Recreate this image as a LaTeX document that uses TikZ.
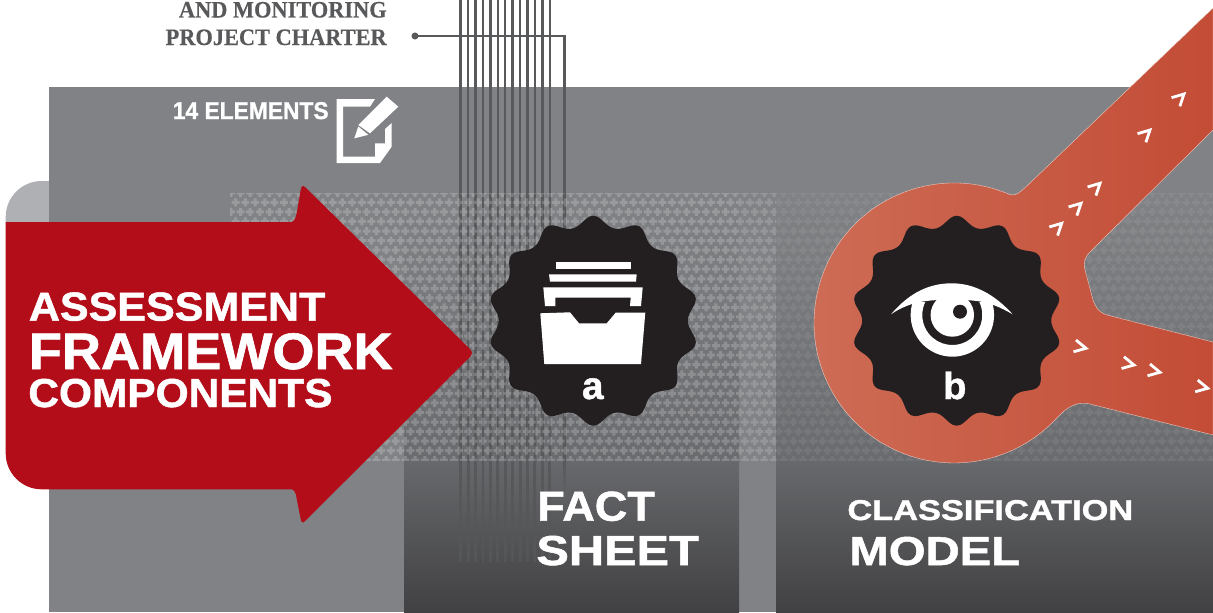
\documentclass[tikz,border=0pt]{standalone}
\usepackage{fontspec}
\newfontfamily\heavyfont[BoldFeatures={FakeBold=1.2}]{Liberation Sans}
\newfontfamily\slabfont[BoldFeatures={FakeBold=0.4}]{Liberation Serif}
\definecolor{panelgray}{HTML}{808285}
\definecolor{tabgray}{HTML}{AEB0B3}
\definecolor{paneltop}{HTML}{68696C}
\definecolor{panelbot}{HTML}{414143}
\definecolor{columnbot}{HTML}{6A6B6E}
\definecolor{wiregray}{HTML}{58595B}
\definecolor{arrowred}{HTML}{B30D1A}
\definecolor{ringleft}{HTML}{CE6D56}
\definecolor{ringright}{HTML}{C34C36}
\definecolor{badgeblack}{HTML}{231F20}
\tikzset{
  wire/.style={wiregray, line width=1.4pt},
  plusmark/.style={white, fill opacity=#1},
  chevron/.style={white, line width=1.6pt, miter limit=10},
  bigtext/.style={anchor=base west, inner sep=0pt, text=white, font=\heavyfont\bfseries},
  icon/.style={white, draw=none, fill=white},
  chartertext/.style={anchor=base east, inner sep=0pt, text=wiregray, font=\slabfont\bfseries\fontsize{13.4}{15}\selectfont},
}
\newcommand{\plusrows}[5]{% x from, x to, first column, last column, opacity
  \begin{scope}
    \clip (#1,193) rectangle (#2,460);
    \foreach \r in {0,...,28} {
      \fill[plusmark=#5] \foreach \c in {#3,...,#4} {
        ({230.8+9.7*\c+4.85*mod(\r,2)-4},{192.8+9.55*\r-1.5}) rectangle ++(8,3)
        ({230.8+9.7*\c+4.85*mod(\r,2)-1.5},{192.8+9.55*\r-4}) rectangle ++(3,8)
      };
    }
  \end{scope}
}
\newcommand{\badge}[2]{% centre
  \fill[badgeblack] plot[smooth cycle, domain=0:358, samples=180]
    ({#1+badger(\x)*cos(\x)},{#2+badger(\x)*sin(\x)});
}
\begin{document}
\begin{tikzpicture}[x=0.02cm, y=-0.02cm,
    declare function={bump(\t)=(1+cos(14*\t+180))/2; badger(\t)=94.5+10.5*(0.7*bump(\t)+0.3*bump(\t)*bump(\t));}]
  \useasboundingbox[fill=white] (0,0) rectangle (1213,612);

  \fill[tabgray] (5.7,222) -- (5.7,217) arc[start angle=180, end angle=270, radius=36] -- (49,181) -- (49,222) -- cycle;
  \fill[panelgray] (49,87) rectangle (1213,612);

  \shade[top color=panelgray, bottom color=columnbot] (404,193) rectangle (739,460);
  \shade[top color=panelgray, bottom color=columnbot] (776,193) rectangle (1213,460);
  \shade[top color=paneltop, bottom color=panelbot] (404,460) rectangle (739,612);
  \shade[top color=paneltop, bottom color=panelbot] (776,460) rectangle (1213,612);

  \foreach \i in {0,...,12} {
    \draw[wire] ({460.7+7.42*\i},0) -- ({460.7+7.42*\i},460);
    \shade[top color=wiregray, bottom color=wiregray!85!panelbot] ({459.5+7.42*\i},460) rectangle ({461.9+7.42*\i},561);
  }
  \node[circle, fill=wiregray, inner sep=0pt, minimum size=4pt] (charterdot) at (415,36) {};
  \coordinate (charterbend) at (564.3,36);
  \coordinate (charterend) at (564.3,460);
  \draw[wire] (charterdot.center) -- (charterbend) -- (charterend);
  \shade[top color=wiregray, bottom color=paneltop!80!panelbot] (563.1,460) rectangle (565.5,495);

  \plusrows{230}{739}{-1}{52}{0.2}
  \plusrows{739}{776}{51}{56}{0.16}
  \plusrows{776}{1213}{55}{101}{0.07}

  \shadedraw[left color=ringleft, right color=ringright, draw=white!70!ringleft, line width=0.2pt]
    (1009.4,194.4) arc[start angle=-66.7, end angle=-317.6, radius=140]
    .. controls (1068,406) and (1078,401) .. (1090,404) -- (1213,435) -- (1213,342) -- (1107,315)
    .. controls (1098,312) and (1095,306) .. (1093,300) -- (1085,270)
    .. controls (1083,262) and (1085,257) .. (1090,252) -- (1213,130) -- (1213,8) -- (1030,183)
    .. controls (1022,190) and (1017,197) .. cycle;

  \foreach \px/\py/\ang in {1100/183.3/44, 1081/203.3/44, 1061.7/223.3/44, 1184/94/44, 1150/130/44} {
    \draw[chevron, shift={(\px,\py)}, rotate=\ang] (-11.5,-6) -- (0,0) -- (-11.5,6);
  }
  \foreach \px/\py/\ang in {1086/348.3/-12, 1134/365/-12, 1160/372.3/-12, 1207.7/388.3/-12} {
    \draw[chevron, shift={(\px,\py)}, rotate=\ang] (-11.5,-6) -- (0,0) -- (-11.5,6);
  }

  \badge{593.3}{320.7}
  \badge{956.7}{320.7}

  \fill[icon] (555.7,262.3) rectangle (631,269);
  \fill[icon] (549,274.3) -- (636.7,274.3) -- (636,281.7) -- (550,281.7) -- cycle;
  \fill[icon] (543.3,287.3) -- (642.7,287.3) -- (641,306) -- (630,306) -- (630.7,297.7) -- (555.3,297.7) -- (555.3,306) -- (545,306) -- cycle;
  \fill[icon] (540.3,313.3) -- (570,312.3) -- (579,323.3) -- (606.7,323.3) -- (615.7,312.7) -- (645.3,312.7) -- (641,364) -- (544.3,364) -- cycle;

  \fill[icon] (912.7,302.1) arc[start angle=198, end angle=-18, radius=41.7] -- (979.3,302) arc[start angle=-25.7, end angle=205.7, radius=30] -- cycle;
  \fill[icon] (952.3,315) circle[radius=21.7];
  \fill[badgeblack] (960,311.7) circle[radius=7];
  \fill[icon] (891,314.3) .. controls (910,292) and (930,283.3) .. (951.7,283.3)
    .. controls (975,283.3) and (995,295) .. (1012.7,314.3)
    .. controls (1000,307) and (990,303) .. (980,301.5)
    .. controls (965,299) and (938,299) .. (923,301.5)
    .. controls (912,303) and (900,308) .. cycle;

  \node[anchor=base, inner sep=0pt, text=white, font=\heavyfont\bfseries\fontsize{22}{22}\selectfont] (labela) at (592.8,399) {a};
  \node[anchor=base, inner sep=0pt, text=white, font=\heavyfont\bfseries\fontsize{21.6}{22}\selectfont] (labelb) at (954.8,399) {b};

  \fill[arrowred] (5.7,222) -- (291.7,222) .. controls (295,221) and (296,216) .. (296.7,213)
    -- (300.5,191) .. controls (301,186) and (303,185) .. (305,187) -- (470,349)
    .. controls (472.5,352) and (472.5,354) .. (470,357) -- (305,521)
    .. controls (303,523.5) and (301,523) .. (300.5,518) -- (296.7,499)
    .. controls (296,494) and (295,490) .. (291.7,489.3) -- (41.7,489.3)
    arc[start angle=90, end angle=180, radius=36] -- cycle;

  \node[bigtext, xscale=1.065] (assess) at (28.5,320.6) {\fontsize{23}{23}\selectfont ASSESSMENT};
  \node[bigtext, xscale=1.055] (framework) at (28.5,369) {\fontsize{29.2}{29}\selectfont FRAMEWORK};
  \node[bigtext, xscale=1.05] (components) at (28,407) {\fontsize{23}{23}\selectfont COMPONENTS};

  \node[bigtext, xscale=0.94] (elements) at (172.5,119) {\fontsize{13.8}{14}\selectfont 14 ELEMENTS};
  \fill[icon] (336.7,99) -- (375,99) -- (370,106.7) -- (343,106.7) -- (343,156.7) -- (375,156.7) -- (375,143.3) -- (385,143.3) -- (385,129) -- (391.7,123) -- (391.7,146.7) -- (380,163) -- (336.7,163) -- cycle;
  \fill[icon] (386.7,96.7) -- (398.3,106.7) -- (370,133.3) -- (358.3,125) -- cycle;
  \fill[icon] (358.3,126.5) -- (368.3,134.8) -- (354.3,138.3) -- cycle;

  \node[chartertext, xscale=0.95] (monitoring) at (387,17.5) {AND MONITORING};
  \node[chartertext, xscale=0.95] (charter) at (387,45) {PROJECT CHARTER};

  \node[bigtext, xscale=1.075] (fact) at (537,520.7) {\fontsize{23.8}{24}\selectfont FACT};
  \node[bigtext, xscale=1.165] (sheet) at (536,565) {\fontsize{23.8}{24}\selectfont SHEET};
  \node[bigtext, xscale=1.2] (classif) at (847,520) {\fontsize{16.3}{16}\selectfont CLASSIFICATION};
  \node[bigtext, xscale=1.17] (model) at (849,565) {\fontsize{23}{23}\selectfont MODEL};
\end{tikzpicture}
\end{document}
